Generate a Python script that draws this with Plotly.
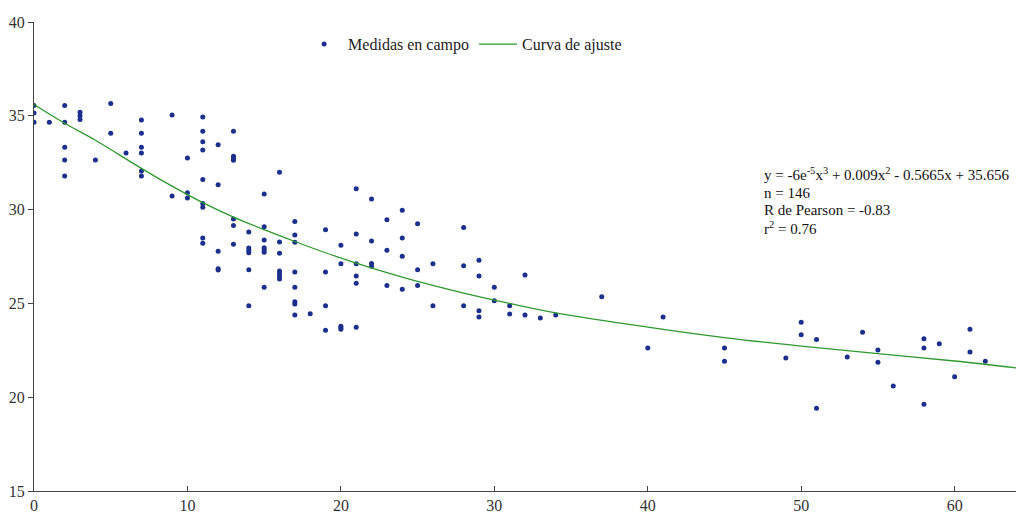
import plotly.graph_objects as go

# Measured field data (x = column value, y = measured value)
meas_x = (
    [0, 0, 0] + [1] + [2] * 5 + [3] * 3 + [4] + [5] * 2 + [6] + [7] * 6 +
    [9] * 2 + [10] * 3 + [11] * 9 + [12] * 5 + [13] * 7 + [14] * 6 + [15] * 7 +
    [16] * 7 + [17] * 8 + [18] + [19] * 4 + [20] * 5 + [21] * 6 + [22] * 4 +
    [23] * 3 + [24] * 4 + [25] * 3 + [26] * 2 + [28] * 3 + [29] * 4 + [30] * 2 +
    [31] * 2 + [32] * 2 + [33] + [34] + [37] + [40] + [41] + [45] * 2 + [49] +
    [50] * 2 + [51] * 2 + [53] + [54] + [55] * 2 + [56] + [58] * 3 + [59] + [60] +
    [61] * 2 + [62]
)
meas_y = [
    35.55, 35.15, 34.65,
    34.65,
    35.55, 34.65, 33.32, 32.64, 31.79,
    35.19, 35.0, 34.8,
    32.64,
    35.65, 34.07,
    33.02,
    34.78, 34.07, 33.32, 33.02, 32.06, 31.79,
    35.04, 30.72,
    32.75, 30.9, 30.62,
    34.94, 34.17, 33.62, 33.18, 31.61, 30.33, 30.12, 28.49, 28.2,
    33.46, 31.33, 27.78, 26.85, 26.78,
    34.17, 32.85, 32.74, 32.63, 29.5, 29.15, 28.15,
    28.81, 27.95, 27.82, 27.7, 26.8, 24.88,
    30.83, 29.09, 28.38, 27.97, 27.85, 27.72, 25.86,
    31.99, 28.27, 27.67, 26.73, 26.58, 26.44, 26.3,
    29.36, 28.65, 28.26, 26.67, 25.86, 25.09, 24.97, 24.38,
    24.45,
    28.93, 26.67, 24.88, 23.57,
    28.1, 27.12, 23.78, 23.7, 23.62,
    31.11, 28.7, 27.12, 26.46, 26.07, 23.73,
    30.57, 28.33, 27.13, 26.98,
    29.46, 27.83, 25.96,
    29.96, 28.49, 27.51, 25.75,
    29.25, 26.8, 25.96,
    27.12, 24.88,
    29.04, 27.01, 24.88,
    27.3, 26.46, 24.61, 24.28,
    25.86, 25.14,
    24.88, 24.43,
    26.51, 24.38,
    24.22,
    24.38,
    25.36,
    22.62,
    24.28,
    22.62, 21.91,
    22.09,
    24.0, 23.33,
    23.07, 19.41,
    22.14,
    23.46,
    22.52, 21.86,
    20.6,
    23.12, 22.62, 19.62,
    22.85,
    21.09,
    23.62, 22.41,
    21.91,
]

# Fitted curve
fit_x = [0, 2, 4, 7, 9, 11, 13, 15, 17, 19, 21, 23, 25, 28, 31, 34, 40, 45, 50, 55, 60, 64]
fit_y = [35.6, 34.6, 33.7, 32.2, 31.25, 30.37, 29.6, 28.93, 28.3, 27.7, 27.15, 26.64,
         26.17, 25.55, 25.0, 24.5, 23.74, 23.18, 22.72, 22.32, 21.93, 21.56]

x_ticks = [0, 10, 20, 30, 40, 50, 60]
y_ticks = [15, 20, 25, 30, 35, 40]

stats_lines = [
    "y = -6e<sup>-5</sup>x<sup>3</sup> + 0.009x<sup>2</sup> - 0.5665x + 35.656",
    "n = 146",
    "R de Pearson = -0.83",
    "r<sup>2</sup> = 0.76",
]
stats_y = [0.675, 0.6355, 0.599, 0.560]

FONT = "Liberation Serif, Times New Roman, serif"

fig = go.Figure()
fig.add_trace(go.Scatter(
    x=meas_x, y=meas_y, mode="markers", name="Medidas en campo",
    marker=dict(color="#1b2f8c", size=5, line=dict(width=0)),
))
fig.add_trace(go.Scatter(
    x=fit_x, y=fit_y, mode="lines", name="Curva de ajuste",
    line=dict(color="#2e9a2e", width=1.3, shape="spline", smoothing=1.0),
))

fig.update_layout(
    width=1016, height=514,
    margin=dict(l=34, r=0, t=22, b=23),
    paper_bgcolor="white", plot_bgcolor="white",
    font=dict(family=FONT, size=16, color="#333333"),
    showlegend=True,
    legend=dict(orientation="h", x=0.271, xanchor="left", y=0.989, yanchor="top",
                itemwidth=38, tracegroupgap=0,
                font=dict(family=FONT, size=16, color="#222222"),
                bgcolor="rgba(0,0,0,0)"),
    annotations=[dict(
        text=t, xref="paper", yref="paper", x=0.7414, y=yy,
        xanchor="left", yanchor="middle", align="left", showarrow=False,
        font=dict(family=FONT, size=15, color="#111111"),
    ) for t, yy in zip(stats_lines, stats_y)],
)
fig.update_xaxes(
    range=[0, 64], tickvals=x_ticks, ticktext=[str(v) for v in x_ticks],
    showgrid=False, zeroline=False, showline=True, linecolor="#444444", linewidth=1,
    ticks="inside", ticklen=5, tickcolor="#444444",
    tickfont=dict(family=FONT, size=16, color="#333333"),
)
fig.update_yaxes(
    range=[15, 40], tickvals=y_ticks, ticktext=[str(v) for v in y_ticks],
    showgrid=False, zeroline=False, showline=True, linecolor="#444444", linewidth=1,
    ticks="outside", ticklen=5, tickcolor="#444444",
    tickfont=dict(family=FONT, size=16, color="#333333"),
)

fig.write_html("out.html")
